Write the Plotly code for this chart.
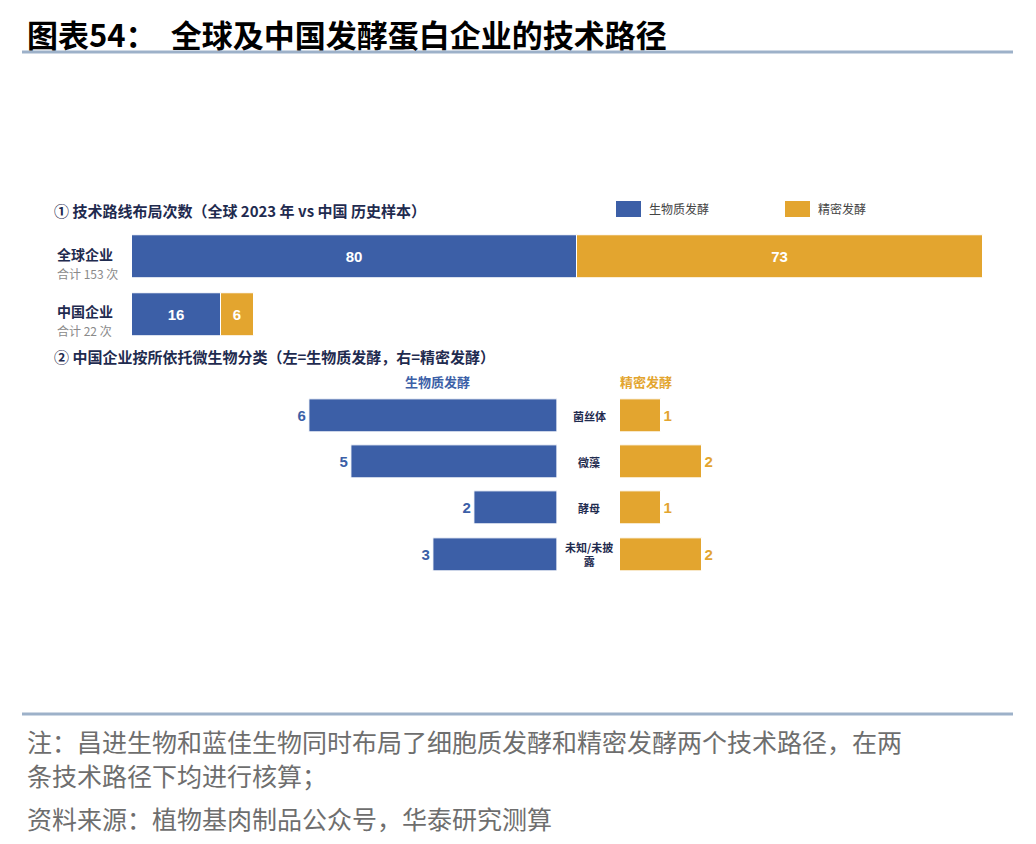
import plotly.graph_objects as go

# page body has an 8px margin, so the figure is sized to fit inside it
OFF = 8
W, H = 1036 - 2 * OFF, 844 - 2 * OFF

# ---------------- data ----------------
title_text = "图表54：  全球及中国发酵蛋白企业的技术路径"
sec1_title = "① 技术路线布局次数（全球 2023 年 vs 中国 历史样本）"
sec2_title = "② 中国企业按所依托微生物分类（左=生物质发酵，右=精密发酵）"
series_names = ["生物质发酵", "精密发酵"]

top_cats = ["全球企业", "中国企业"]
top_totals = ["合计 153 次", "合计 22 次"]
top_bio = [80, 16]
top_prec = [73, 6]

micro_cats = ["菌丝体", "微藻", "酵母", "未知/未披露"]
micro_bio = [6, 5, 2, 3]
micro_prec = [1, 2, 1, 2]

note_lines = [
    "注：昌进生物和蓝佳生物同时布局了细胞质发酵和精密发酵两个技术路径，在两",
    "条技术路径下均进行核算；",
]
source_line = "资料来源：植物基肉制品公众号，华泰研究测算"

# ---------------- style ----------------
BLUE = "#3C5FA7"
ORANGE = "#E3A52F"
NAVY = "#1F2B4F"
GREY = "#8A8A8A"
RULE = "#9DB1C9"
CJK = "Noto Sans CJK SC"
NUM = "Liberation Sans, Noto Sans CJK SC"


def px(x):
    return (x - OFF) / W


def py(y):
    return 1 - (y - OFF) / H


fig = go.Figure()

# ---- section 1: stacked horizontal bars ----
fig.add_trace(go.Bar(
    y=top_cats, x=top_bio, orientation="h", name=series_names[0],
    marker=dict(color=BLUE, line=dict(color="white", width=1)),
    width=0.74, text=top_bio, textposition="inside", insidetextanchor="middle",
    textangle=0, textfont=dict(color="white", size=15, family=NUM, weight="bold"),
    xaxis="x", yaxis="y", showlegend=False, hoverinfo="skip",
))
fig.add_trace(go.Bar(
    y=top_cats, x=top_prec, base=top_bio, orientation="h", name=series_names[1],
    marker=dict(color=ORANGE, line=dict(color="white", width=1)),
    width=0.74, text=top_prec, textposition="inside", insidetextanchor="middle",
    textangle=0, textfont=dict(color="white", size=15, family=NUM, weight="bold"),
    xaxis="x", yaxis="y", showlegend=False, hoverinfo="skip",
))

# ---- section 2: butterfly bars ----
fig.add_trace(go.Bar(
    y=micro_cats, x=micro_bio, orientation="h", name=series_names[0],
    marker=dict(color=BLUE, line=dict(color="white", width=1)),
    width=0.71, text=micro_bio, textposition="outside", cliponaxis=False,
    textangle=0, textfont=dict(color=BLUE, size=15, family=NUM, weight="bold"),
    xaxis="x2", yaxis="y2", showlegend=False, hoverinfo="skip",
))
fig.add_trace(go.Bar(
    y=micro_cats, x=micro_prec, orientation="h", name=series_names[1],
    marker=dict(color=ORANGE, line=dict(color="white", width=1)),
    width=0.71, text=micro_prec, textposition="outside", cliponaxis=False,
    textangle=0, textfont=dict(color=ORANGE, size=15, family=NUM, weight="bold"),
    xaxis="x3", yaxis="y2", showlegend=False, hoverinfo="skip",
))

unit = 41.2
hidden = dict(visible=False, fixedrange=True)
fig.update_layout(
    width=W, height=H, margin=dict(l=0, r=0, t=0, b=0),
    paper_bgcolor="white", plot_bgcolor="rgba(0,0,0,0)",
    barmode="overlay", bargap=0,
    xaxis=dict(domain=[px(132), px(983)], range=[0, 153], anchor="y", **hidden),
    yaxis=dict(domain=[py(343.25), py(228.25)], type="category",
               autorange="reversed", anchor="x", **hidden),
    xaxis2=dict(domain=[px(557 - 8 * unit), px(557)], range=[8, 0], anchor="y2", **hidden),
    yaxis2=dict(domain=[py(577.65), py(392.35)], type="category",
                autorange="reversed", anchor="x2", **hidden),
    xaxis3=dict(domain=[px(620), px(620 + 3 * unit)], range=[0, 3], anchor="y2", **hidden),
    font=dict(family=CJK),
)

ann = []
shapes = []

# header
ann.append(dict(x=px(25), y=py(33), xref="paper", yref="paper", xanchor="left", yanchor="middle",
                text=title_text, showarrow=False,
                font=dict(family=CJK, size=31, color="black", weight="bold")))
shapes.append(dict(type="line", xref="paper", yref="paper", x0=px(22), x1=px(1013),
                   y0=py(52), y1=py(52), line=dict(color=RULE, width=3)))

# section titles
ann.append(dict(x=px(52), y=py(211), xref="paper", yref="paper", xanchor="left", yanchor="middle",
                text=sec1_title, showarrow=False,
                font=dict(family=CJK, size=15, color=NAVY, weight="bold")))
ann.append(dict(x=px(52), y=py(356), xref="paper", yref="paper", xanchor="left", yanchor="middle",
                text=sec2_title, showarrow=False,
                font=dict(family=CJK, size=15, color=NAVY, weight="bold")))

# legend
for nm, col, x0 in zip(series_names, [BLUE, ORANGE], [616, 785]):
    shapes.append(dict(type="rect", xref="paper", yref="paper", x0=px(x0), x1=px(x0 + 25),
                       y0=py(217), y1=py(201), fillcolor=col, line=dict(width=0)))
    ann.append(dict(x=px(x0 + 31), y=py(209), xref="paper", yref="paper", xanchor="left",
                    yanchor="middle", text=nm, showarrow=False,
                    font=dict(family=CJK, size=12, color="#444444")))

# row labels section 1
for cat, tot, yc in zip(top_cats, top_totals, [257, 314.5]):
    ann.append(dict(x=px(55), y=py(yc - 3), xref="paper", yref="paper", xanchor="left",
                    yanchor="middle", text=cat, showarrow=False,
                    font=dict(family=CJK, size=14, color=NAVY, weight="bold")))
    ann.append(dict(x=px(55), y=py(yc + 16), xref="paper", yref="paper", xanchor="left",
                    yanchor="middle", text=tot, showarrow=False,
                    font=dict(family=CJK, size=12, color=GREY)))

# column headers section 2
ann.append(dict(x=px(437), y=py(381), xref="paper", yref="paper", xanchor="center", yanchor="middle",
                text=series_names[0], showarrow=False,
                font=dict(family=CJK, size=13, color=BLUE, weight="bold")))
ann.append(dict(x=px(646), y=py(381), xref="paper", yref="paper", xanchor="center", yanchor="middle",
                text=series_names[1], showarrow=False,
                font=dict(family=CJK, size=13, color=ORANGE, weight="bold")))


def wrap(s, n=5):
    return s if len(s) <= n else s[:n] + "<br>" + s[n:]


# category labels between butterfly bars
for cat in micro_cats:
    ann.append(dict(x=px(589), y=cat, xref="paper", yref="y2", xanchor="center", yanchor="middle",
                    text=wrap(cat), showarrow=False,
                    font=dict(family=CJK, size=11, color=NAVY, weight="bold")))

# footer
shapes.append(dict(type="line", xref="paper", yref="paper", x0=px(22), x1=px(1013),
                   y0=py(714), y1=py(714), line=dict(color=RULE, width=3)))
for line, yc in zip(note_lines + [source_line], [741, 775, 818]):
    ann.append(dict(x=px(25), y=py(yc), xref="paper", yref="paper", xanchor="left", yanchor="middle",
                    text=line, showarrow=False,
                    font=dict(family=CJK, size=25, color="#6E6E6E")))

fig.update_layout(annotations=ann, shapes=shapes)
fig.write_html("out.html")
